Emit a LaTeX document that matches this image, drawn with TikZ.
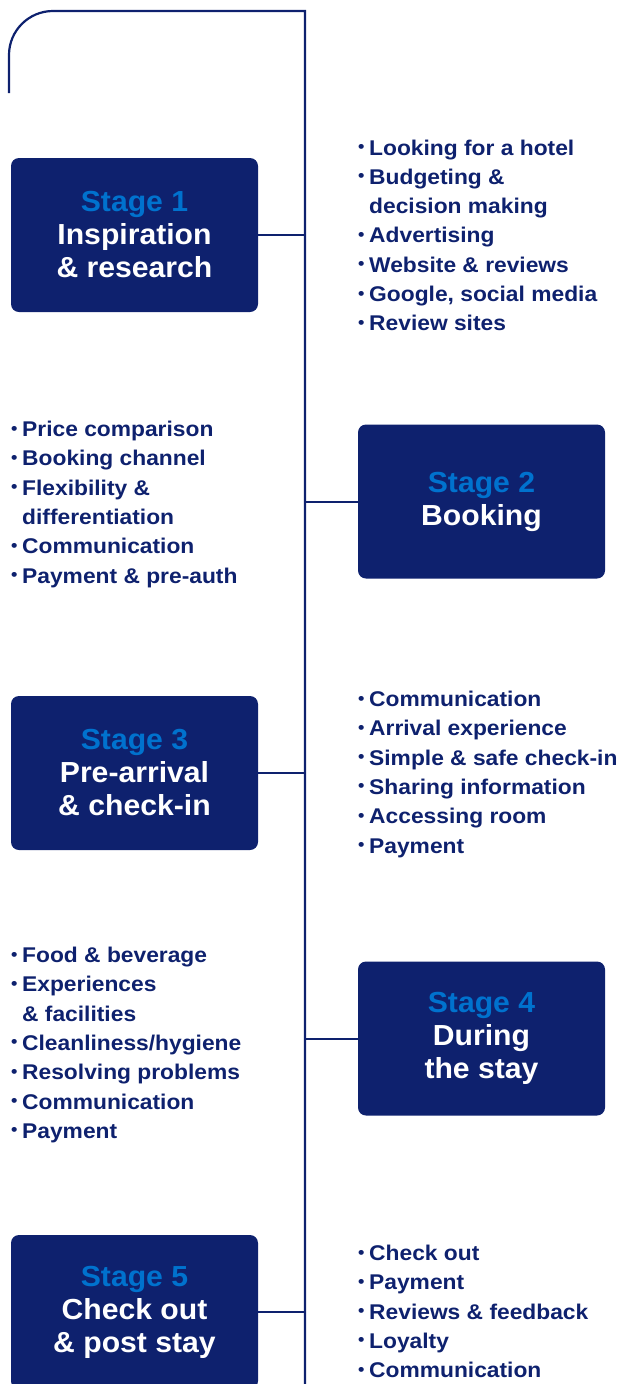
\documentclass[tikz,border=0pt]{standalone}
\usepackage{fontspec}
\setmainfont{Liberation Sans}
\newfontfamily\boxfont[FakeStretch=1.04]{Liberation Sans}
\newfontfamily\itemfont[FakeStretch=1.07]{Liberation Sans}
\definecolor{navy}{RGB}{14,33,110}
\definecolor{stageblue}{RGB}{0,114,206}
\newcommand{\bul}{\makebox[11pt][l]{\raisebox{2.5pt}{\fontsize{17}{17}\selectfont •}}}
\newcommand{\ind}{\hspace*{11pt}}
\newcommand{\stg}[1]{{\color{stageblue}#1}}
\newcommand{\lst}[1]{\begin{tabular}[t]{@{}l@{}}#1\end{tabular}}
\begin{document}
\begin{tikzpicture}[x=1pt,y=-1pt,
  spine/.style={draw=navy,line width=2.2pt},
  link/.style={draw=navy,line width=2pt},
  stagebox/.style={fill=navy,rounded corners=8pt,minimum width=247pt,minimum height=154pt,
    inner sep=0pt,text=white,align=center,font=\boxfont\bfseries\fontsize{29}{33}\selectfont},
  items/.style={inner sep=0pt,anchor=base west,text=navy,
    font=\itemfont\bfseries\fontsize{21.3}{29.3}\selectfont}]
\useasboundingbox (0,0) rectangle (620,1384);
\coordinate (top) at (305,11);
\coordinate (bot) at (305,1384);
\draw[spine] (9,93) -- (9,55) .. controls (9,30.7) and (28.7,11) .. (53,11) -- (top) -- (bot);

\node[stagebox] (b1) at (134.5,235) {\stg{Stage 1}\\Inspiration\\\& research};
\node[stagebox] (b2) at (481.5,501.5) {\stg{Stage 2}\\Booking};
\node[stagebox] (b3) at (134.5,773) {\stg{Stage 3}\\Pre-arrival\\\& check-in};
\node[stagebox] (b4) at (481.5,1038.5) {\stg{Stage 4}\\During\\the stay};
\node[stagebox] (b5) at (134.5,1312) {\stg{Stage 5}\\Check out\\\& post stay};

\draw[link] (b1.east) -- (b1.east -| top);
\draw[link] (b2.west) -- (b2.west -| top);
\draw[link] (b3.east) -- (b3.east -| top);
\draw[link] (b4.west) -- (b4.west -| top);
\draw[link] (b5.east) -- (b5.east -| top);

\node[items] (l1) at (358,155) {\lst{\bul Looking for a hotel\\\bul Budgeting \&\\\ind decision making\\\bul Advertising\\\bul Website \& reviews\\\bul Google, social media\\\bul Review sites}};
\node[items] (l2) at (11,436.5) {\lst{\bul Price comparison\\\bul Booking channel\\\bul Flexibility \&\\\ind differentiation\\\bul Communication\\\bul Payment \& pre-auth}};
\node[items] (l3) at (358,706.5) {\lst{\bul Communication\\\bul Arrival experience\\\bul Simple \& safe check-in\\\bul Sharing information\\\bul Accessing room\\\bul Payment}};
\node[items] (l4) at (11,962.5) {\lst{\bul Food \& beverage\\\bul Experiences\\\ind \& facilities\\\bul Cleanliness/hygiene\\\bul Resolving problems\\\bul Communication\\\bul Payment}};
\node[items] (l5) at (358,1260.5) {\lst{\bul Check out\\\bul Payment\\\bul Reviews \& feedback\\\bul Loyalty\\\bul Communication}};
\end{tikzpicture}
\end{document}
